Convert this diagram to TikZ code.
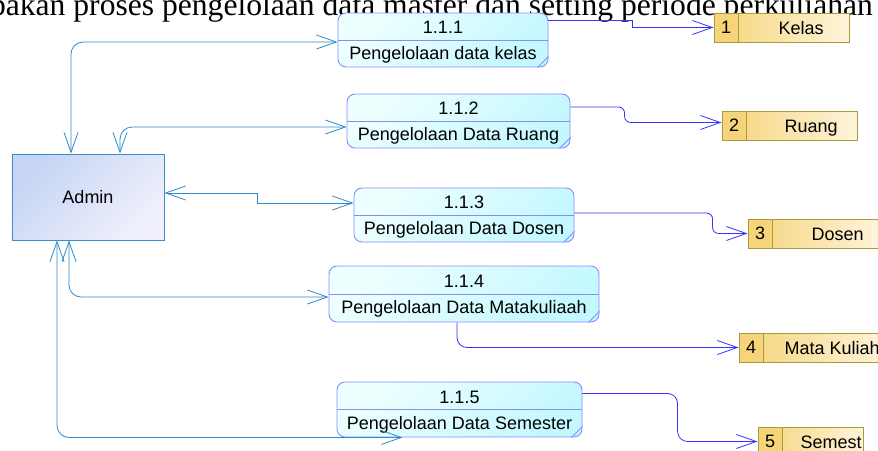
\documentclass[tikz,border=0pt]{standalone}
\usepackage{fontspec}
\setmainfont{Liberation Sans}
\newfontfamily\titlefont{Liberation Serif}
\usetikzlibrary{positioning, arrows.meta}
\definecolor{procA}{HTML}{EEFFFF}
\definecolor{procB}{HTML}{C4F8FF}
\definecolor{procline}{HTML}{8A8AFF}
\definecolor{adminA}{HTML}{C6D5F4}
\definecolor{adminB}{HTML}{F0F0FD}
\definecolor{adminline}{HTML}{3A8CCB}
\definecolor{storeA}{HTML}{F5D47A}
\definecolor{storeB}{HTML}{FEF4DA}
\definecolor{storeline}{HTML}{A89C38}
\definecolor{linkblue}{HTML}{2A8ACC}
\definecolor{flowblue}{HTML}{3434FF}
\tikzstyle{entity} = [rectangle, minimum width=152pt, minimum height=86pt, draw=adminline, line width=0.9pt, top color=adminA, bottom color=adminB, shading angle=45, font=\fontsize{18}{21}\selectfont]
\tikzstyle{process} = [rectangle, rounded corners=8pt, minimum height=54pt, draw=procline, line width=0.9pt, top color=procA, bottom color=procB, shading angle=45, align=center, text height=43pt, font=\fontsize{18}{26}\selectfont]
\tikzstyle{divider} = [procline, line width=0.9pt]
\tikzstyle{store} = [rectangle, minimum height=29pt, draw=storeline, line width=0.9pt, left color=storeA, right color=storeB]
\tikzstyle{storeid} = [rectangle, minimum width=24pt, minimum height=29pt, draw=storeline, line width=0.9pt, fill=storeA, inner sep=0pt, font=\fontsize{18}{21}\selectfont]
\tikzstyle{storetext} = [inner sep=0pt, text height=16.5pt, text depth=3.5pt, font=\fontsize{18}{21}\selectfont]
\tikzstyle{link} = [linkblue, line width=0.8pt, rounded corners=12pt, {Straight Barb[length=20pt,width=14pt]}-{Straight Barb[length=20pt,width=14pt]}]
\tikzstyle{flow} = [flowblue, line width=0.8pt, rounded corners=6pt, -{Straight Barb[length=20pt,width=14pt]}]

\begin{document}
\begin{tikzpicture}[x=1pt, y=-1pt]
    \useasboundingbox (0,0) rectangle (878,450);

    \node (title) [anchor=base east, inner sep=0pt, font=\titlefont\fontsize{31.6}{36}\selectfont] at (873,15) {pakan proses pengelolaan data master dan setting periode perkuliahan};

    \node (admin) [entity] at (88,197) {Admin};

    \node (p1) [process, minimum width=210pt] at (443,40) {1.1.1\\Pengelolaan data kelas};
    \node (p2) [process, minimum width=223pt] at (458.5,121) {1.1.2\\Pengelolaan Data Ruang};
    \node (p3) [process, minimum width=220pt] at (464,215) {1.1.3\\Pengelolaan Data Dosen};
    \node (p4) [process, minimum width=270pt, minimum height=56pt] at (464,294) {1.1.4\\Pengelolaan Data Matakuliaah};
    \node (p5) [process, minimum width=245pt, minimum height=55pt] at (459.5,409.5) {1.1.5\\Pengelolaan Data Semester};

    \draw [divider] (p1.west)--(p1.east);
    \draw [divider] (p2.west)--(p2.east);
    \draw [divider] (p3.west)--(p3.east);
    \draw [divider] (p4.west)--(p4.east);
    \draw [divider] (p5.west)--(p5.east);
    \draw [divider] ([xshift=-11pt]p1.south east)--([yshift=11pt]p1.south east);
    \draw [divider] ([xshift=-11pt]p2.south east)--([yshift=11pt]p2.south east);
    \draw [divider] ([xshift=-11pt]p3.south east)--([yshift=11pt]p3.south east);
    \draw [divider] ([xshift=-11pt]p4.south east)--([yshift=11pt]p4.south east);
    \draw [divider] ([xshift=-11pt]p5.south east)--([yshift=11pt]p5.south east);

    \node (s1) [store, minimum width=135pt] at (781.5,27.5) {};
    \node (n1) [storeid, anchor=west] at (s1.west) {1};
    \node (t1) [storetext, right=40pt of n1] {Kelas};

    \node (s2) [store, minimum width=135pt] at (789.5,125.5) {};
    \node (n2) [storeid, anchor=west] at (s2.west) {2};
    \node (t2) [storetext, right=38pt of n2] {Ruang};

    \node (s3) [store, minimum width=130pt] at (813,233.5) {};
    \node (n3) [storeid, anchor=west] at (s3.west) {3};
    \node (t3) [storetext, right=39pt of n3] {Dosen};

    \node (s4) [store, minimum width=150pt] at (814,347.5) {};
    \node (n4) [storeid, anchor=west] at (s4.west) {4};
    \node (t4) [storetext, right=21pt of n4] {Mata Kuliah};

    \node (s5) [store, minimum width=105pt] at (810.5,441.5) {};
    \node (n5) [storeid, anchor=west] at (s5.west) {5};
    \node (t5) [storetext, right=18pt of n5] {Semest};

    \draw [link] ([xshift=-17pt]admin.north) |- ([yshift=-2pt]p1.west);
    \draw [link] ([xshift=32pt]admin.north) |- ([yshift=-6pt]p2.west);
    \draw [link, sharp corners] ([yshift=4pt]admin.east) -| ([xshift=-96pt, yshift=12pt]p3.west) -- ([yshift=12pt]p3.west);
    \draw [link] ([xshift=-19pt]admin.south) |- ([yshift=-3pt]p4.west);
    \draw [link] ([xshift=-31pt]admin.south) |- ([xshift=-57pt]p5.south);

    \draw [flow, sharp corners] ([yshift=20pt]p1.east) -| ([xshift=-81pt]s1.west) -- (s1.west);
    \draw [flow] ([yshift=14pt]p2.east) -| ([xshift=-97pt, yshift=3pt]s2.west) -- ([yshift=3pt]s2.west);
    \draw [flow] ([yshift=2pt]p3.east) -| ([xshift=-35pt]s3.west) -- (s3.west);
    \draw [flow, rounded corners=10pt] ([xshift=-7pt]p4.south) |- (s4.west);
    \draw [flow, rounded corners=10pt] ([yshift=16pt]p5.east) -| ([xshift=-80pt]s5.west) -- (s5.west);

\end{tikzpicture}
\end{document}
